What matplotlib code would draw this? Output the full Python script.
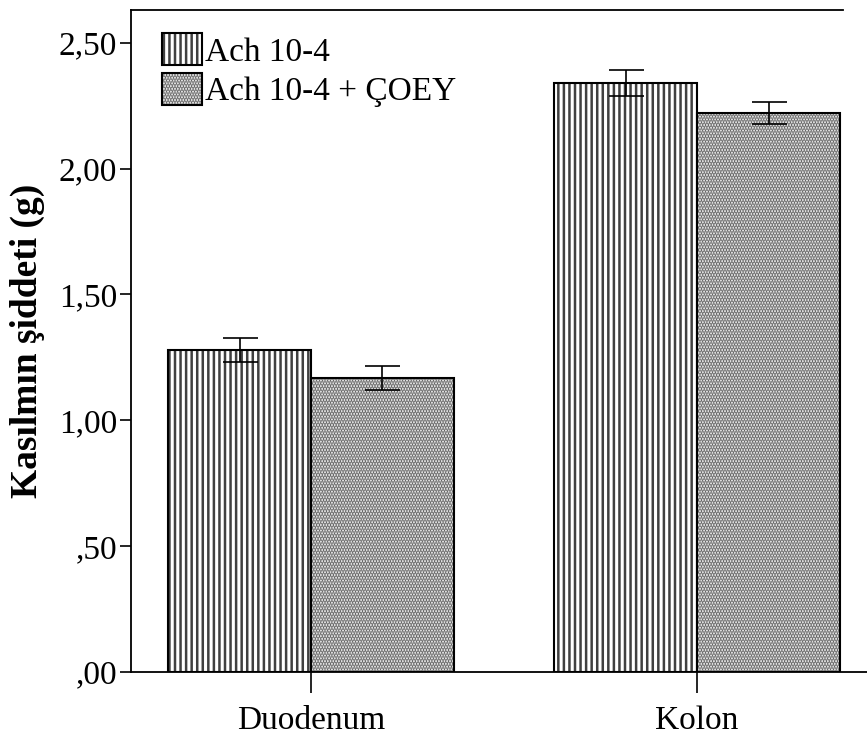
import matplotlib
matplotlib.use('Agg')
import matplotlib.pyplot as plt
import numpy as np

plt.rcParams['font.family'] = ['Liberation Serif', 'DejaVu Serif']
plt.rcParams['hatch.linewidth'] = 1.8

# data
groups = ['Duodenum', 'Kolon']
series = ['Ach 10-4', 'Ach 10-4 + ÇOEY']
ach = [1.28, 2.34]
ach_err = [0.047, 0.051]
coey = [1.167, 2.221]
coey_err = [0.048, 0.045]
yticks = [0.0, 0.5, 1.0, 1.5, 2.0, 2.5]
ytick_labels = [',00', ',50', '1,00', '1,50', '2,00', '2,50']

fig = plt.figure(figsize=(8.67, 7.36), dpi=100)
ax = fig.add_axes([131 / 867, 1 - 672 / 736, 1 - 131 / 867, 662 / 736])

x = np.arange(len(groups))
width = 0.37

b1 = ax.bar(x - width / 2, ach, width, facecolor='white', edgecolor='black',
            linewidth=1.5, hatch='|||', label=series[0])
b2 = ax.bar(x + width / 2, coey, width, facecolor='white', edgecolor='black',
            linewidth=1.5, hatch='......', label=series[1])
for b in b1:
    b._hatch_color = (0.25, 0.25, 0.25, 1)
for b in b2:
    b._hatch_color = (0.4, 0.4, 0.4, 1)

ax.errorbar(x - width / 2, ach, yerr=ach_err, fmt='none', ecolor='black',
            elinewidth=1.2, capsize=12.6, capthick=1.2)
ax.errorbar(x + width / 2, coey, yerr=coey_err, fmt='none', ecolor='black',
            elinewidth=1.2, capsize=12.6, capthick=1.2)

ax.set_xlim(-0.466, 1.44)
ax.set_ylim(0, 2.63)
ax.spines['right'].set_visible(False)
ax.spines['top'].set_bounds(-0.466, 1.378)
for s in ['left', 'bottom', 'top']:
    ax.spines[s].set_linewidth(1.3)

ax.set_xticks(x)
ax.set_xticklabels(groups, fontsize=24)
ax.set_yticks(yticks)
ax.set_yticklabels(ytick_labels, fontsize=24)
ax.tick_params(axis='y', length=8, width=1.2, pad=2)
ax.tick_params(axis='x', length=15, width=1.2, pad=9)

ax.set_ylabel('Kasılmın şiddeti (g)', fontsize=27, fontweight='bold', labelpad=10)

ax.legend(loc='upper left', bbox_to_anchor=(0.01, 1.0), frameon=False, fontsize=24,
          handlelength=1.2, handleheight=1.1, handletextpad=0.1, labelspacing=0.15,
          borderaxespad=0.3)

plt.savefig('out.png', dpi=100)
plt.close()
